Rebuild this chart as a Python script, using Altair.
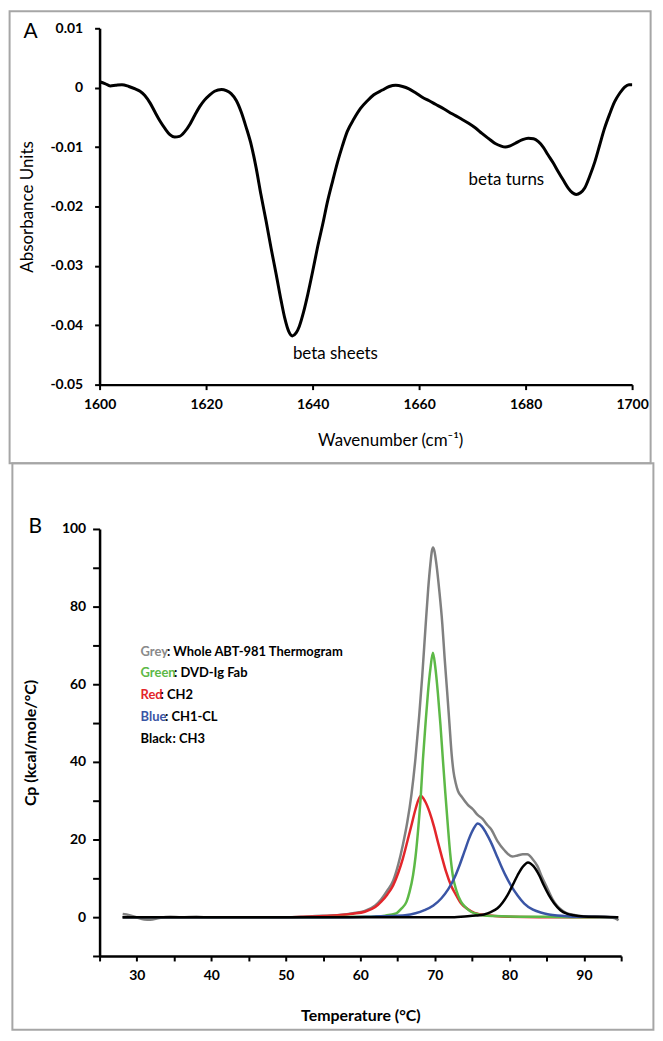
import altair as alt
import pandas as pd

FONT = "Lato"

# ---------------- Panel A: FTIR second-derivative spectrum ----------------
wavenumber = [1600.0, 1601.0, 1602.0, 1603.0, 1604.2, 1605.5, 1606.7, 1607.6, 1608.5, 1609.5,
              1610.4, 1611.4, 1612.3, 1613.2, 1614.1, 1615.0, 1616.0, 1617.0, 1617.9, 1618.8,
              1619.7, 1620.7, 1621.6, 1622.9, 1623.8, 1624.7, 1625.7, 1626.6, 1627.5, 1628.5,
              1629.4, 1630.3, 1631.3, 1632.2, 1633.2, 1634.1, 1634.8, 1635.5, 1636.2, 1636.9,
              1637.5, 1638.3, 1639.1, 1640.0, 1640.9, 1641.9, 1642.8, 1643.8, 1644.7, 1645.6,
              1646.5, 1647.8, 1649.0, 1650.3, 1651.5, 1653.1, 1654.4, 1655.6, 1656.9, 1658.1,
              1659.4, 1660.6, 1661.9, 1663.1, 1664.7, 1666.2, 1667.8, 1669.3, 1670.6, 1671.8,
              1673.1, 1674.3, 1675.3, 1676.2, 1677.1, 1678.0, 1679.3, 1680.5, 1681.5, 1682.4,
              1683.3, 1684.2, 1685.2, 1686.1, 1687.1, 1688.0, 1688.8, 1689.5, 1690.3, 1691.1,
              1692.0, 1693.0, 1693.9, 1694.8, 1695.8, 1696.7, 1697.7, 1698.6, 1699.4, 1700.0]
absorbance = [0.0010, 0.0007, 0.0003, 0.0004, 0.0005, 0.0002, -0.0002, -0.0006, -0.0013, -0.0026,
              -0.0041, -0.0057, -0.0069, -0.0079, -0.0083, -0.0082, -0.0074, -0.0061, -0.0046, -0.0032,
              -0.0021, -0.0012, -0.0006, -0.0003, -0.0005, -0.0010, -0.0022, -0.0041, -0.0066, -0.0097,
              -0.0135, -0.0180, -0.0226, -0.0270, -0.0316, -0.0359, -0.0389, -0.0410, -0.0418, -0.0413,
              -0.0402, -0.0378, -0.0348, -0.0310, -0.0270, -0.0230, -0.0192, -0.0156, -0.0125, -0.0098,
              -0.0074, -0.0052, -0.0035, -0.0022, -0.0012, -0.0004, 0.0002, 0.0004, 0.0002, -0.0002,
              -0.0009, -0.0016, -0.0022, -0.0028, -0.0036, -0.0044, -0.0052, -0.0060, -0.0068, -0.0077,
              -0.0086, -0.0094, -0.0098, -0.0100, -0.0098, -0.0094, -0.0088, -0.0085, -0.0086, -0.0091,
              -0.0100, -0.0113, -0.0127, -0.0141, -0.0156, -0.0169, -0.0177, -0.0180, -0.0177, -0.0169,
              -0.0150, -0.0125, -0.0097, -0.0069, -0.0044, -0.0024, -0.0009, 0.0001, 0.0005, 0.0005]
a_ticks_x = [1600, 1620, 1640, 1660, 1680, 1700]
a_ticks_y = [0.01, 0, -0.01, -0.02, -0.03, -0.04, -0.05]
a_note_text = ["beta sheets", "beta turns"]
a_note_x = [1636.3, 1669.3]
a_note_y = [-0.0448, -0.0155]

# ---------------- Panel B: DSC thermogram and fitted transitions ----------------
grey_t = [28.1, 29.0, 30.0, 31.0, 31.8, 33.0, 34.5, 36.0, 38.0, 40.0, 43.0, 46.0, 49.0, 52.0,
          54.0, 56.0, 57.5, 59.0, 60.6, 62.0, 62.8, 63.6, 64.4, 65.1, 65.7, 66.3, 66.85, 67.4,
          67.9, 68.3, 68.75, 69.1, 69.4, 69.6, 69.75, 69.95, 70.2, 70.6, 71.0, 71.3, 71.65, 71.95,
          72.25, 72.5, 72.8, 73.1, 73.6, 74.4, 75.1, 75.7, 76.4, 77.1, 77.5, 78.4, 79.3, 80.4,
          81.1, 81.8, 82.4, 83.1, 83.75, 84.4, 85.1, 85.8, 86.4, 87.1, 87.75, 88.6, 89.5, 91.0,
          92.5, 93.5, 94.2, 94.65]
grey_cp = [0.8, 0.5, -0.1, -0.6, -0.7, -0.2, 0.1, 0.0, 0.1, -0.1, 0.0, 0.0, -0.1, 0.1,
           0.3, 0.4, 0.6, 1.0, 1.6, 3.0, 4.6, 6.8, 9.4, 13.7, 18.6, 24.5, 31.5, 41.0,
           52.0, 62.0, 74.9, 84.5, 91.0, 94.3, 95.2, 94.2, 91.0, 84.0, 75.5, 67.0, 58.0, 50.0,
           42.0, 37.5, 34.5, 32.5, 31.0, 29.0, 27.8, 26.4, 25.3, 23.6, 22.8, 19.6, 17.3, 15.6,
           15.9, 16.2, 16.2, 15.0, 13.2, 10.2, 7.4, 4.6, 2.9, 1.7, 1.0, 0.6, 0.3, 0.2,
           0.1, 0.0, -0.3, -0.8]

red_t = [28.1, 50.0, 54.0, 57.0, 59.0, 60.6, 62.0, 62.8, 63.6, 64.4, 65.1, 65.7, 66.3, 66.85,
         67.4, 68.1, 68.7, 69.3, 69.9, 70.4, 70.9, 71.5, 72.2, 72.85, 73.5, 74.4, 75.3, 76.2,
         78.0, 80.0, 84.0, 94.6]
red_cp = [0, 0, 0.2, 0.5, 0.9, 1.4, 2.6, 4.0, 5.8, 8.2, 11.5, 15.1, 19.5, 23.6,
          27.8, 31.3, 29.8, 27.0, 23.2, 19.4, 15.8, 11.7, 8.0, 5.7, 3.6, 2.1, 1.1, 0.7,
          0.3, 0.1, 0, 0]

green_t = [28.1, 55.0, 60.0, 62.0, 63.3, 64.8, 65.5, 66.2, 66.6, 67.07, 67.4, 67.8, 68.1, 68.4,
           68.75, 69.07, 69.4, 69.74, 70.05, 70.4, 70.75, 71.07, 71.4, 71.74, 72.05, 72.4, 72.9,
           73.5, 74.2, 74.85, 75.7, 76.6, 78.0, 80.0, 85.0, 90.0, 94.6]
green_cp = [0, 0, 0.1, 0.2, 0.4, 1.0, 2.2, 4.0, 6.5, 10.8, 15.5, 23.6, 31.0, 40.7,
            50.0, 57.8, 64.0, 68.1, 64.5, 57.8, 49.5, 40.7, 32.0, 23.6, 16.5, 10.8, 6.8,
            4.0, 2.4, 1.4, 0.8, 0.4, 0.3, 0.2, 0.1, 0, 0]

blue_t = [28.1, 58.0, 62.0, 64.0, 66.0, 67.4, 68.6, 69.8, 70.85, 71.8, 72.6, 73.3, 73.95, 74.6,
          75.2, 75.75, 76.3, 76.9, 77.5, 78.2, 78.85, 79.5, 80.2, 81.1, 82.0, 83.1, 84.2, 85.3,
          86.4, 88.0, 90.0, 94.6]
blue_cp = [0, 0, 0.2, 0.3, 0.5, 1.0, 1.8, 3.0, 4.8, 7.2, 10.0, 13.3, 16.8, 20.3,
           22.8, 24.1, 23.4, 21.6, 19.4, 16.3, 13.4, 10.7, 8.2, 5.6, 3.5, 2.0, 1.2, 0.7,
           0.4, 0.2, 0.1, 0]

black_t = [28.1, 72.0, 74.0, 75.5, 76.6, 77.5, 78.4, 79.1, 79.75, 80.4, 81.1, 81.8, 82.5, 83.2,
           84.0, 84.6, 85.3, 86.0, 86.85, 87.7, 88.6, 90.0, 92.0, 94.6]
black_cp = [0, 0, 0.2, 0.4, 0.7, 1.3, 2.3, 3.8, 5.7, 8.1, 10.8, 13.0, 14.1, 13.2,
            10.8, 8.3, 5.7, 3.6, 1.8, 0.9, 0.5, 0.2, 0.1, 0]

legend_word = ["Grey", "Green", "Red", "Blue", "Black"]
legend_rest = [": Whole ABT-981 Thermogram", ": DVD-Ig Fab", ": CH2", ": CH1-CL", ": CH3"]
legend_color = ["#8a8a8a", "#5db947", "#e3262b", "#3a55a5", "#000000"]
legend_word_px = [26.5, 33.5, 20.0, 24.5, 32.0]   # rendered width of each coloured word
legend_cp = [68.4, 62.8, 57.2, 51.5, 45.9]
legend_t0 = 30.5

b_ticks_x = [25, 30, 35, 40, 45, 50, 55, 60, 65, 70, 75, 80, 85, 90, 95]
b_ticks_y = [-10, 0, 10, 20, 30, 40, 50, 60, 70, 80, 90, 100]

curve_colors = {"grey": "#808080", "red": "#e3262b", "green": "#5db947",
                "blue": "#3a55a5", "black": "#000000"}

one = pd.DataFrame({"k": [0]})


def frame(x1, x2, y1, y2):
    return alt.Chart(one).mark_rect(fill="white", fillOpacity=0, stroke="#a6a6a6",
                                    strokeWidth=2).encode(
        x=alt.value(x1), x2=alt.value(x2), y=alt.value(y1), y2=alt.value(y2))


def letter(txt, x, y):
    return alt.Chart(one).mark_text(text=txt, font=FONT, fontSize=21, align="center",
                                    baseline="middle", color="black").encode(
        x=alt.value(x), y=alt.value(y))


# ---------------- build panel A ----------------
A_W, A_H = 535, 358
xa = alt.X("wn:Q", scale=alt.Scale(domain=[1600, 1700], nice=False, zero=False),
           axis=alt.Axis(values=a_ticks_x, tickCount=len(a_ticks_x), format="d",
                         title="Wavenumber (cm⁻¹)",
                         tickSize=5, tickWidth=2, domainWidth=2.5, labelPadding=8,
                         labelFontSize=14, labelFontWeight="bold", labelFlush=False,
                         labelOverlap=False, titleFontSize=17, titleFontWeight="normal",
                         titleX=292, titleY=56, titleAlign="center", titleBaseline="middle"))
ya = alt.Y("ab:Q", scale=alt.Scale(domain=[-0.05, 0.01], nice=False, zero=False),
           axis=alt.Axis(values=a_ticks_y, tickCount=len(a_ticks_y),
                         labelExpr="datum.value == 0 ? '0' : (datum.value < 0 ? '-' : '') + format(abs(datum.value), '.2f')",
                         tickSize=5, tickWidth=2, domainWidth=2.5, labelPadding=12,
                         labelFontSize=14, labelFontWeight="bold", labelOverlap=False,
                         title="Absorbance Units", titleFontSize=17, titleFontWeight="normal",
                         titleX=-72, titleY=A_H / 2, titleAngle=270, titleAlign="center",
                         titleBaseline="middle"))

dfA = pd.DataFrame({"wn": wavenumber, "ab": absorbance})
lineA = alt.Chart(dfA).mark_line(color="black", strokeWidth=3, interpolate="monotone").encode(x=xa, y=ya)
notesA = alt.Chart(pd.DataFrame({"wn": a_note_x, "ab": a_note_y, "t": a_note_text})).mark_text(
    font=FONT, fontSize=17, align="left", baseline="middle", color="black").encode(
    x=alt.X("wn:Q"), y=alt.Y("ab:Q"), text="t:N")

panelA = alt.layer(
    frame(-90.4, 553.6, -17, 437),
    lineA, notesA,
    letter("A", -69.4, 3.3),
).properties(width=A_W, height=A_H)

# ---------------- build panel B ----------------
B_W, B_H = 524, 429
PX_PER_DEG = B_W / 70.0
xb = alt.X("T:Q", scale=alt.Scale(domain=[25, 95], nice=False, zero=False),
           axis=alt.Axis(values=b_ticks_x, tickCount=len(b_ticks_x) + 5,
                         labelExpr="(datum.value % 10 == 0 && datum.value >= 30 && datum.value <= 90) ? format(datum.value, 'd') : ''",
                         tickSize=5, tickWidth=2, domainWidth=2.5, labelPadding=8,
                         labelFontSize=14, labelFontWeight="bold", labelFlush=False,
                         labelOverlap=False, title="Temperature (°C)", titleFontSize=16,
                         titleFontWeight="bold", titleX=B_W / 2, titleY=60, titleAlign="center",
                         titleBaseline="middle"))
yb = alt.Y("cp:Q", scale=alt.Scale(domain=[-10, 100], nice=False, zero=False),
           axis=alt.Axis(values=b_ticks_y, tickCount=len(b_ticks_y) + 5,
                         labelExpr="(datum.value >= 0 && datum.value % 20 == 0) ? format(datum.value, 'd') : ''",
                         tickSize=7, tickWidth=2, domainWidth=2.5, labelPadding=7,
                         labelFontSize=14, labelFontWeight="bold", labelOverlap=False,
                         title="Cp (kcal/mole/°C)", titleFontSize=16, titleFontWeight="bold",
                         titleX=-69.6, titleY=B_H / 2, titleAngle=270, titleAlign="center",
                         titleBaseline="middle"))


def curve(ts, vs, color):
    d = pd.DataFrame({"T": ts, "cp": vs})
    return alt.Chart(d).mark_line(color=color, strokeWidth=2.5, interpolate="monotone").encode(x=xb, y=yb)


legdf = pd.DataFrame({
    "T": [legend_t0] * len(legend_word),
    "T2": [legend_t0 + w / PX_PER_DEG for w in legend_word_px],
    "cp": legend_cp, "word": legend_word, "rest": legend_rest, "c": legend_color})
leg_col = alt.Chart(legdf).mark_text(font=FONT, fontSize=13, fontWeight="bold", align="left",
                                     baseline="middle").encode(
    x=alt.X("T:Q"), y=alt.Y("cp:Q"), text="word:N", color=alt.Color("c:N", scale=None))
leg_rest = alt.Chart(legdf).mark_text(font=FONT, fontSize=13, fontWeight="bold", align="left",
                                      baseline="middle", color="black").encode(
    x=alt.X("T2:Q"), y=alt.Y("cp:Q"), text="rest:N")

panelB = alt.layer(
    frame(-87.6, 556.4, -66, 503),
    curve(grey_t, grey_cp, curve_colors["grey"]),
    curve(red_t, red_cp, curve_colors["red"]),
    curve(green_t, green_cp, curve_colors["green"]),
    curve(blue_t, blue_cp, curve_colors["blue"]),
    curve(black_t, black_cp, curve_colors["black"]),
    leg_col, leg_rest,
    letter("B", -64.6, -2),
).properties(width=B_W, height=B_H)

chart = alt.concat(panelA, panelB, columns=1, spacing=-2, align="none").properties(
    padding=0
).configure_view(strokeWidth=0).configure_axis(
    grid=False, domainColor="black", tickColor="black", labelColor="black",
    titleColor="black", labelFont=FONT, titleFont=FONT
)

chart.save("out.html", embed_options={"renderer": "svg", "actions": False})
